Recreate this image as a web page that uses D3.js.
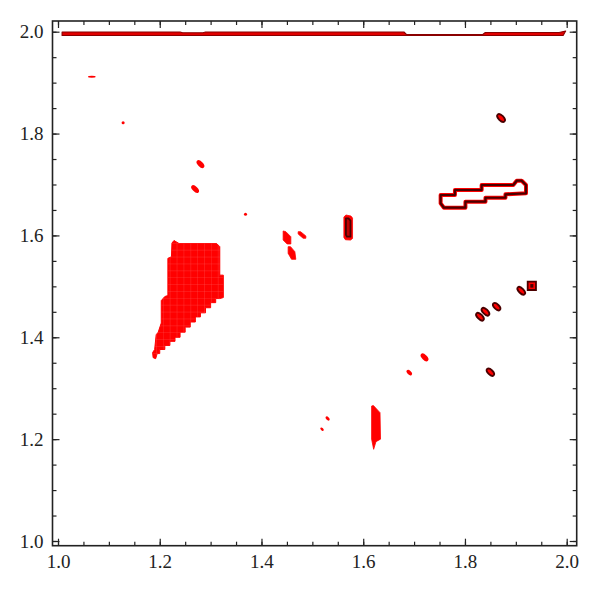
<!DOCTYPE html>
<html>
<head>
<meta charset="utf-8">
<script src="https://cdn.jsdelivr.net/npm/d3@7"></script>
<style>
  html, body { margin: 0; padding: 0; background: #fff; }
  svg { display: block; }
</style>
</head>
<body>
<div id="chart"></div>
<script>
const width = 600;
const height = 595;

// ticks
const xLabels = [1.0, 1.2, 1.4, 1.6, 1.8, 2.0];
const yLabels = [1.0, 1.2, 1.4, 1.6, 1.8, 2.0];
const minorTicks = [1.0, 1.05, 1.1, 1.15, 1.2, 1.25, 1.3, 1.35, 1.4, 1.45, 1.5,
  1.55, 1.6, 1.65, 1.7, 1.75, 1.8, 1.85, 1.9, 1.95, 2.0];

// big filled region (x, y)
const mainRegion = [
  [1.318, 1.476], [1.31, 1.476], [1.31, 1.468], [1.30, 1.468], [1.30, 1.458],
  [1.29, 1.458], [1.29, 1.448], [1.28, 1.448], [1.28, 1.44], [1.27, 1.44],
  [1.27, 1.43], [1.26, 1.43], [1.26, 1.42], [1.25, 1.42], [1.25, 1.41],
  [1.24, 1.41], [1.24, 1.40], [1.23, 1.40], [1.23, 1.392], [1.22, 1.392],
  [1.22, 1.384], [1.21, 1.384], [1.21, 1.376], [1.20, 1.376], [1.20, 1.368],
  [1.195, 1.368], [1.192, 1.358], [1.187, 1.36], [1.186, 1.37], [1.19, 1.376],
  [1.193, 1.405], [1.197, 1.41], [1.203, 1.428], [1.203, 1.472], [1.21, 1.48],
  [1.216, 1.482], [1.216, 1.555], [1.223, 1.558], [1.224, 1.585], [1.228, 1.59],
  [1.238, 1.584], [1.312, 1.584], [1.318, 1.578], [1.318, 1.522], [1.325, 1.522],
  [1.325, 1.478]
];

// thin band along y = 2
const topBand = [
  [1.008, 1.9995], [1.24, 1.9995], [1.245, 1.998], [1.285, 1.998], [1.29, 1.9995],
  [1.68, 1.9995], [1.685, 1.9945], [1.835, 1.9945], [1.84, 1.9985], [1.985, 1.9985],
  [1.998, 2.0015], [1.993, 1.9925], [1.84, 1.9925], [1.008, 1.9925]
];

// red patches
const patches = [
  [[1.4426, 1.6087], [1.4479, 1.6073], [1.4577, 1.5975], [1.4577, 1.5832], [1.4504, 1.5832], [1.4426, 1.591]],
  [[1.4721, 1.6073], [1.4768, 1.6073], [1.4872, 1.5989], [1.4872, 1.5944], [1.4819, 1.5944], [1.4721, 1.6028]],
  [[1.4524, 1.5779], [1.4571, 1.5779], [1.4656, 1.568], [1.4675, 1.5531], [1.4591, 1.5531], [1.4524, 1.5649]],
  [[1.6165, 1.265], [1.62, 1.266], [1.633, 1.252], [1.634, 1.2], [1.625, 1.195], [1.6205, 1.18], [1.6165, 1.2]]
];

// capsule near x = 1.57 (outer fill, inner contour)
const capsuleOuter = [[1.562, 1.636], [1.566, 1.6401], [1.576, 1.638], [1.579, 1.634], [1.579, 1.594], [1.575, 1.5909], [1.565, 1.5915], [1.562, 1.596]];
const capsuleInner = [[1.566, 1.6336], [1.571, 1.6336], [1.575, 1.629], [1.575, 1.5975], [1.568, 1.5975], [1.566, 1.601]];

// open zigzag contour
const zigzag = [
  [1.7522, 1.6794], [1.7803, 1.6794], [1.7803, 1.6892], [1.8328, 1.6892], [1.8328, 1.699],
  [1.895, 1.699], [1.9017, 1.7074], [1.9115, 1.7074], [1.92, 1.699], [1.92, 1.6827],
  [1.8796, 1.6807], [1.8796, 1.674], [1.8403, 1.674], [1.8403, 1.6662], [1.8009, 1.6662],
  [1.8009, 1.6544], [1.7587, 1.6544], [1.7522, 1.663]
];

// small square contour
const squareSpot = [[1.9233, 1.5092], [1.9396, 1.5092], [1.9396, 1.4928], [1.9233, 1.4928]];
const squareCore = [[1.9285, 1.5045], [1.9345, 1.5045], [1.9345, 1.4975], [1.9285, 1.4975]];

// small red spots: x, y, half length, half width, tilt (deg)
const redSpots = [
  [1.0665, 1.9115, 0.0075, 0.0018, 0],
  [1.128, 1.8214, 0.003, 0.003, 0],
  [1.280, 1.740, 0.0095, 0.005, 45],
  [1.2695, 1.691, 0.0095, 0.005, 45],
  [1.3686, 1.6415, 0.003, 0.003, 0],
  [1.7205, 1.3605, 0.0095, 0.005, 45],
  [1.6905, 1.3305, 0.0065, 0.0038, 45],
  [1.530, 1.2405, 0.005, 0.003, 45],
  [1.519, 1.2195, 0.004, 0.0025, 45]
];

// small outlined spots: x, y, half length, half width, tilt (deg)
const ringSpots = [
  [1.871, 1.8306, 0.0095, 0.005, 45],
  [1.9107, 1.4913, 0.0095, 0.0048, 45],
  [1.8623, 1.4600, 0.009, 0.0048, 45],
  [1.8403, 1.4502, 0.0095, 0.0048, 45],
  [1.8295, 1.4404, 0.0095, 0.0048, 45],
  [1.8500, 1.3314, 0.009, 0.0048, 45]
];

const RED = "#ff0000";
const DARK = "#4a0000";
const FONT = "'Liberation Serif', 'DejaVu Serif', 'Times New Roman', serif";

const svg = d3.select("#chart")
  .append("svg")
  .attr("width", width)
  .attr("height", height);

const x = d3.scaleLinear().domain([1, 2]).range([58, 566.7]);
const y = d3.scaleLinear().domain([1, 2]).range([541, 31.7]);

const frame = { left: 52.5, right: 576.7, top: 21, bottom: 545.7 };

const closed = d3.line().x(d => x(d[0])).y(d => y(d[1])).curve(d3.curveLinearClosed);

// ------------------
// regions
// ------------------

svg.append("defs").append("clipPath")
  .attr("id", "mainClip")
  .append("path")
  .attr("d", closed(mainRegion));

svg.append("path")
  .attr("d", closed(mainRegion))
  .attr("fill", RED)
  .attr("stroke", RED)
  .attr("stroke-width", 1);

// faint mesh inside the region
const mesh = svg.append("g").attr("clip-path", "url(#mainClip)");
d3.range(1.18, 1.33, 0.0135).forEach(v => {
  mesh.append("line")
    .attr("x1", x(v)).attr("x2", x(v))
    .attr("y1", y(1.6)).attr("y2", y(1.35))
    .attr("stroke", "#ff6a6a").attr("stroke-width", 0.6).attr("opacity", 0.4);
});
d3.range(1.355, 1.6, 0.0135).forEach(v => {
  mesh.append("line")
    .attr("x1", x(1.18)).attr("x2", x(1.33))
    .attr("y1", y(v)).attr("y2", y(v))
    .attr("stroke", "#ff6a6a").attr("stroke-width", 0.6).attr("opacity", 0.4);
});

svg.append("path")
  .attr("d", closed(topBand))
  .attr("fill", "#e00000")
  .attr("stroke", "#8a0000")
  .attr("stroke-width", 1.1)
  .attr("stroke-linejoin", "round");

patches.forEach(p => {
  svg.append("path")
    .attr("d", closed(p))
    .attr("fill", RED)
    .attr("stroke", RED)
    .attr("stroke-width", 0.8)
    .attr("stroke-linejoin", "round");
});

svg.append("path")
  .attr("d", closed(capsuleOuter))
  .attr("fill", RED)
  .attr("stroke", RED)
  .attr("stroke-width", 0.8);

svg.append("path")
  .attr("d", closed(capsuleInner))
  .attr("fill", "#c00000")
  .attr("stroke", DARK)
  .attr("stroke-width", 1.8)
  .attr("stroke-linejoin", "round");

// spots
const pxPerUnit = x(2) - x(1);

svg.selectAll(".red-spot")
  .data(redSpots)
  .enter()
  .append("ellipse")
  .attr("class", "red-spot")
  .attr("transform", d => `translate(${x(d[0])},${y(d[1])}) rotate(${d[4]})`)
  .attr("rx", d => d[2] * pxPerUnit)
  .attr("ry", d => d[3] * pxPerUnit)
  .attr("fill", RED);

// outlined contours
svg.append("path")
  .attr("d", closed(zigzag))
  .attr("fill", "none")
  .attr("stroke", RED)
  .attr("stroke-width", 4)
  .attr("stroke-linejoin", "round");

svg.append("path")
  .attr("d", closed(zigzag))
  .attr("fill", "none")
  .attr("stroke", DARK)
  .attr("stroke-width", 2.2)
  .attr("stroke-linejoin", "round");

svg.selectAll(".ring-spot")
  .data(ringSpots)
  .enter()
  .append("ellipse")
  .attr("class", "ring-spot")
  .attr("transform", d => `translate(${x(d[0])},${y(d[1])}) rotate(${d[4]})`)
  .attr("rx", d => d[2] * pxPerUnit)
  .attr("ry", d => d[3] * pxPerUnit)
  .attr("fill", RED)
  .attr("stroke", DARK)
  .attr("stroke-width", 1.8);

svg.append("path")
  .attr("d", closed(squareSpot))
  .attr("fill", RED)
  .attr("stroke", DARK)
  .attr("stroke-width", 1.8);

svg.append("path")
  .attr("d", closed(squareCore))
  .attr("fill", DARK);

// ------------------
// axes (ticks inward)
// ------------------

const fmt = d3.format(".1f");

function styleAxis(g) {
  g.attr("font-family", FONT).attr("font-size", 19);
  g.select(".domain").remove();
  g.selectAll(".tick line").attr("stroke", "#222").attr("stroke-width", 1.2);
  g.selectAll(".tick text")
    .attr("fill", "#222")
    .style("font-family", FONT)
    .style("font-size", "19px");
}

// bottom
svg.append("g").attr("transform", `translate(0,${frame.bottom})`)
  .call(d3.axisBottom(x).tickValues(minorTicks).tickSize(-4).tickFormat(""))
  .call(styleAxis);
svg.append("g").attr("transform", `translate(0,${frame.bottom})`)
  .call(d3.axisBottom(x).tickValues(xLabels).tickSize(-7).tickPadding(9).tickFormat(fmt))
  .call(styleAxis);

// top
svg.append("g").attr("transform", `translate(0,${frame.top})`)
  .call(d3.axisTop(x).tickValues(minorTicks).tickSize(-4).tickFormat(""))
  .call(styleAxis);
svg.append("g").attr("transform", `translate(0,${frame.top})`)
  .call(d3.axisTop(x).tickValues(xLabels).tickSize(-7).tickFormat(""))
  .call(styleAxis);

// left
svg.append("g").attr("transform", `translate(${frame.left},0)`)
  .call(d3.axisLeft(y).tickValues(minorTicks).tickSize(-4).tickFormat(""))
  .call(styleAxis);
svg.append("g").attr("transform", `translate(${frame.left},0)`)
  .call(d3.axisLeft(y).tickValues(yLabels).tickSize(-7).tickPadding(9).tickFormat(fmt))
  .call(styleAxis);

// right
svg.append("g").attr("transform", `translate(${frame.right},0)`)
  .call(d3.axisRight(y).tickValues(minorTicks).tickSize(-4).tickFormat(""))
  .call(styleAxis);
svg.append("g").attr("transform", `translate(${frame.right},0)`)
  .call(d3.axisRight(y).tickValues(yLabels).tickSize(-7).tickFormat(""))
  .call(styleAxis);

// frame
svg.append("rect")
  .attr("x", frame.left)
  .attr("y", frame.top)
  .attr("width", frame.right - frame.left)
  .attr("height", frame.bottom - frame.top)
  .attr("fill", "none")
  .attr("stroke", "#222")
  .attr("stroke-width", 1.6);
</script>
</body>
</html>
